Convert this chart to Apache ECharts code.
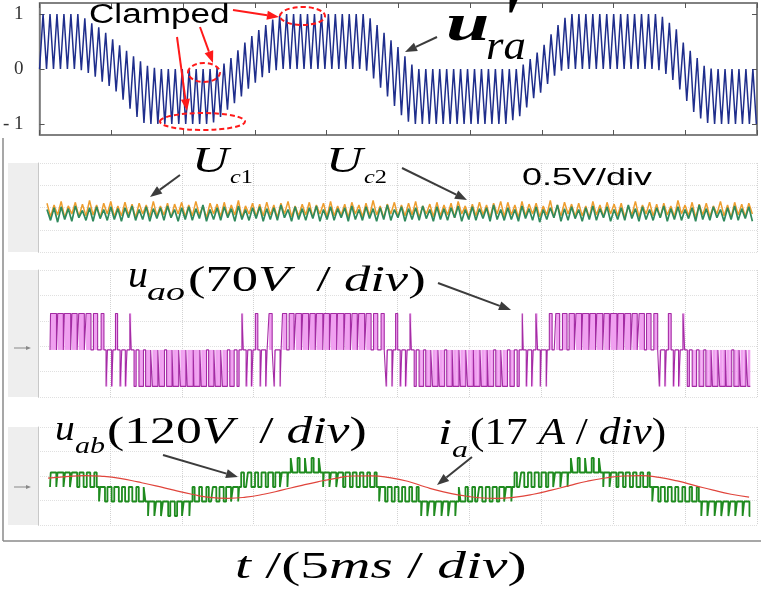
<!DOCTYPE html>
<html>
<head>
<meta charset="utf-8">
<script src="https://cdn.jsdelivr.net/npm/echarts@6/dist/echarts.min.js"></script>
<style>
  html, body { margin: 0; padding: 0; background: #fff; }
  #chart { width: 761px; height: 596px; }
</style>
</head>
<body>
<div id="chart"></div>
<script>
// time axis is in divisions (5 ms / div), 10 divisions across

// u'ra : peak / trough of each carrier period
const refPeriod = 0.097;
const refUpper = [
  1, 1, 1, 1, 1, 1, 0.92, 0.83, 0.76, 0.66, 0.54, 0.43, 0.33, 0.23, 0.14, 0.06, 0.02,
  0, 0, 0, 0, 0, 0, 0, 0,
  0.02, 0.1, 0.2, 0.34, 0.48, 0.6, 0.71, 0.8, 0.9, 0.97, 1,
  1, 1, 1, 1, 1, 1, 1, 1, 1, 1, 1,
  0.92, 0.8, 0.66, 0.52, 0.4, 0.23, 0.08, 0,
  0, 0, 0, 0, 0, 0, 0, 0, 0, 0, 0, 0, 0,
  0, 0.08, 0.18, 0.3, 0.44, 0.63, 0.8, 0.93, 1,
  1, 1, 1, 1, 1, 1, 1, 1, 1, 1, 1, 1,
  0.95, 0.84, 0.72, 0.48, 0.33, 0.2, 0.06, 0.01, 0,
  0, 0, 0, 0, 0
];
const refLower = [
  0, 0, 0, 0, 0, 0, -0.02, -0.07, -0.14, -0.23, -0.31, -0.41, -0.56, -0.72, -0.87, -0.98, -1,
  -1, -1, -1, -1, -1, -1, -1, -1,
  -0.97, -0.87, -0.74, -0.62, -0.5, -0.36, -0.25, -0.15, -0.07, -0.02, 0,
  0, 0, 0, 0, 0, 0, 0, 0, 0, 0, 0,
  -0.03, -0.17, -0.34, -0.5, -0.67, -0.84, -0.96, -1,
  -1, -1, -1, -1, -1, -1, -1, -1, -1, -1, -1, -1, -1,
  -0.93, -0.86, -0.7, -0.53, -0.43, -0.27, -0.12, -0.03, 0,
  0, 0, 0, 0, 0, 0, 0, 0, 0, 0, 0, 0,
  -0.02, -0.09, -0.2, -0.37, -0.58, -0.78, -0.9, -0.98, -1,
  -1, -1, -1, -1, -1
];

// capacitor voltages Uc1 (orange) / Uc2 (green), ripple in 1/16 div
const ucStart = 0.125;
const ucStep = 0.0493;
const uc1Values = [
  1.0, -0.5, 0.8, -0.3, 1.2, -0.6, 0.7, -0.2, 1.1, -0.5, 0.9, -0.4, 1.3, -0.3, 0.8, -0.6, 1.0, -0.2, 1.2, -0.5,
  0.7, -0.4, 1.1, -0.3, 0.9, -0.6, 1.0, -0.2, 0.8, -0.5, 1.2, -0.4, 0.7, -0.3, 1.0, -0.6, 0.9, -0.2, 1.1, -0.5,
  0.8, -0.4, 1.2, -0.3, 0.7, -0.6, 1.0, -0.2, 0.9, -0.5, 1.1, -0.4, 0.8, -0.3, 1.3, -0.6, 0.7, -0.2, 1.0, -0.5,
  0.9, -0.4, 1.1, -0.3, 0.8, -0.6, 1.0, -0.2, 1.2, -0.5, 0.7, -0.4, 0.9, -0.3, 1.1, -0.6, 0.8, -0.2, 1.0, -0.5,
  1.2, -0.4, 0.7, -0.3, 0.9, -0.6, 1.1, -0.2, 0.8, -0.5, 1.0, -0.4, 1.3, -0.3, 0.7, -0.6, 0.9, -0.2, 1.1, -0.5,
  0.8, -0.4, 1.0, -0.3, 1.2, -0.6, 0.7, -0.2, 0.9, -0.5, 1.1, -0.4, 0.8, -0.3, 1.0, -0.6, 1.2, -0.2, 0.7, -0.5,
  0.9, -0.4, 1.1, -0.3, 0.8, -0.6, 1.0, -0.2, 1.2, -0.5,
  1.1, -0.3, 0.8, -0.6, 1.2, -0.4, 0.9, -0.2, 1.0, -0.5, 0.7, -0.3, 1.3, -0.6, 0.8, -0.4, 1.1, -0.2, 0.9, -0.5,
  1.0, -0.4, 0.7, -0.6, 1.2, -0.3, 0.8, -0.5, 1.1, -0.2, 0.9, -0.4, 1.0, -0.6, 0.7, -0.3, 1.2, -0.5, 0.8, -0.2,
  1.1, -0.4, 0.9, -0.6, 1.0, -0.3, 0.7, -0.5, 1.3, -0.2, 0.8, -0.4, 1.1, -0.6, 0.9, -0.3, 1.0, -0.5, 0.7, -0.2,
  1.2, -0.4, 0.8, -0.6, 1.1, -0.3, 0.9, -0.5, 1.0, -0.2
];
const uc2Values = [
  0.3, -0.9, 0.5, -1.1, 0.6, -0.8, 0.4, -1.0, 0.7, -0.6, 0.2, -0.9, 0.5, -1.0, 0.6, -0.7, 0.3, -0.9, 0.6, -0.8,
  0.4, -1.0, 0.5, -0.6, 0.7, -0.9, 0.3, -0.8, 0.6, -1.0, 0.4, -0.7, 0.5, -0.9, 0.7, -0.6, 0.3, -1.0, 0.5, -0.8,
  0.6, -0.9, 0.4, -0.7, 0.8, -1.0, 0.3, -0.8, 0.5, -0.9, 0.6, -0.6, 0.4, -1.0, 0.7, -0.8, 0.3, -0.9, 0.5, -0.7,
  0.6, -1.0, 0.4, -0.8, 0.5, -0.9, 0.8, -0.6, 0.3, -1.0, 0.6, -0.8, 0.4, -0.9, 0.5, -0.7, 0.7, -1.0, 0.3, -0.8,
  0.6, -0.9, 0.4, -0.6, 0.5, -1.0, 0.7, -0.8, 0.3, -0.9, 0.6, -0.7, 0.4, -1.0, 0.5, -0.8, 0.8, -0.9, 0.3, -0.6,
  0.6, -1.0, 0.4, -0.8, 0.5, -0.9, 0.7, -0.7, 0.3, -1.0, 0.6, -0.8, 0.4, -0.9, 0.5, -0.6, 0.7, -1.0, 0.3, -0.8,
  0.6, -0.9, 0.4, -0.7, 0.5, -1.0, 0.8, -0.8, 0.3, -0.9,
  0.5, -0.8, 0.3, -1.0, 0.7, -0.7, 0.4, -0.9, 0.6, -1.1, 0.3, -0.8, 0.5, -0.6, 0.8, -1.0, 0.4, -0.9, 0.6, -0.7,
  0.3, -1.0, 0.5, -0.8, 0.7, -0.9, 0.4, -0.6, 0.6, -1.0, 0.3, -0.8, 0.5, -0.9, 0.8, -0.7, 0.4, -1.0, 0.6, -0.8,
  0.3, -0.9, 0.5, -0.6, 0.7, -1.0, 0.4, -0.8, 0.6, -0.9, 0.3, -0.7, 0.5, -1.0, 0.8, -0.8, 0.4, -0.9, 0.6, -0.6,
  0.3, -1.0, 0.5, -0.8, 0.7, -0.9, 0.4, -0.7, 0.6, -1.0
];

// PWM cells: lower level of the cell and fraction of the cell spent one level higher
const pwmStart = 0.167;
const cellWidth = 0.0974;
const aoLow = [
  0, 0, 0, 0, 0, 0, 0,
  0, -1, 0, -1, 0, -1,
  -1, -1, -1, -1, -1, -1, -1, -1, -1, -1, -1, -1, -1, -1,
  0, -1, 0, -1, 0, -1,
  0, 0, 0, 0, 0, 0, 0, 0, 0, 0, 0, 0, 0, 0,
  0, -1, 0, -1, 0,
  -1, -1, -1, -1, -1, -1, -1, -1, -1, -1, -1, -1, -1, -1, -1,
  0, -1, 0, -1, 0,
  0, 0, 0, 0, 0, 0, 0, 0, 0, 0, 0, 0, 0, 0, 0,
  -1, 0, -1, 0, -1,
  -1, -1, -1, -1, -1, -1, -1, -1
];
const aoDuty = [
  0.85, 0.8, 0.9, 0.75, 0.8, 0.7, 0.6,
  0.4, 0.6, 0.3, 0.5, 0.2, 0.4,
  0.3, 0.25, 0.2, 0.3, 0.15, 0.25, 0.2, 0.1, 0.2, 0.3, 0.2, 0.25, 0.35, 0.4,
  0.2, 0.5, 0.35, 0.6, 0.45, 0.7,
  0.6, 0.7, 0.8, 0.85, 0.75, 0.9, 0.8, 0.85, 0.9, 0.8, 0.75, 0.85, 0.7, 0.6,
  0.45, 0.65, 0.3, 0.5, 0.2,
  0.4, 0.3, 0.25, 0.2, 0.3, 0.15, 0.2, 0.25, 0.1, 0.2, 0.15, 0.3, 0.25, 0.35, 0.4,
  0.15, 0.55, 0.25, 0.7, 0.4,
  0.55, 0.65, 0.75, 0.8, 0.9, 0.8, 0.85, 0.75, 0.9, 0.8, 0.85, 0.7, 0.75, 0.65, 0.55,
  0.6, 0.4, 0.5, 0.25, 0.4,
  0.35, 0.3, 0.2, 0.25, 0.15, 0.3, 0.2, 0.25
];
const abLow = [
  0, 0, 0, 0, 0, 0, 0,
  -1, -1, -1, -1, -1, -1, -1,
  -2, -2, -2, -2, -2, -2,
  -1, -1, -1, -1, -1, -1, -1,
  0, 0, 0, 0, 0, 0, 0,
  1, 1, 1, 1, 1,
  0, 0, 0, 0, 0, 0, 0, 0,
  -1, -1, -1, -1, -1, -1,
  -2, -2, -2, -2, -2,
  -1, -1, -1, -1, -1, -1, -1, -1,
  0, 0, 0, 0, 0, 0, 0, 0,
  1, 1, 1, 1, 1,
  0, 0, 0, 0, 0, 0, 0,
  -1, -1, -1, -1, -1, -1, -1,
  -2, -2, -2, -2, -2, -2, -2
];
const abDuty = [
  0.8, 0.85, 0.7, 0.75, 0.6, 0.5, 0.35,
  0.7, 0.6, 0.65, 0.45, 0.5, 0.35, 0.25,
  0.8, 0.7, 0.75, 0.65, 0.7, 0.8,
  0.3, 0.4, 0.35, 0.5, 0.6, 0.7, 0.75,
  0.4, 0.5, 0.45, 0.6, 0.7, 0.65, 0.8,
  0.25, 0.3, 0.2, 0.3, 0.25,
  0.8, 0.75, 0.7, 0.65, 0.55, 0.5, 0.4, 0.3,
  0.7, 0.6, 0.55, 0.45, 0.4, 0.3,
  0.75, 0.7, 0.8, 0.7, 0.75,
  0.25, 0.35, 0.4, 0.45, 0.55, 0.6, 0.7, 0.75,
  0.35, 0.45, 0.5, 0.6, 0.65, 0.7, 0.75, 0.8,
  0.25, 0.3, 0.2, 0.3, 0.25,
  0.8, 0.75, 0.65, 0.6, 0.5, 0.4, 0.3,
  0.7, 0.6, 0.55, 0.45, 0.4, 0.35, 0.3,
  0.75, 0.8, 0.7, 0.75, 0.7, 0.8, 0.75
];

// phase current ia, sampled every quarter division
const iaStart = 0.14;
const iaStep = 0.25;
const iaValues = [
  0.62, 0.72, 0.79, 0.74, 0.6, 0.35, 0.08, -0.22, -0.5, -0.72,
  -0.78, -0.7, -0.5, -0.22, 0.08, 0.36, 0.6, 0.76, 0.77, 0.65,
  0.4, 0.0, -0.34, -0.58, -0.74, -0.79, -0.7, -0.5, -0.22, 0.1,
  0.4, 0.62, 0.76, 0.78, 0.66, 0.42, 0.1, -0.22, -0.5, -0.7
];

const serif = 'Liberation Serif';
const sans = 'Liberation Sans';

function refPoints() {
  const pts = [];
  refUpper.forEach((u, k) => {
    pts.push([k * refPeriod, refLower[k]]);
    pts.push([(k + 0.5) * refPeriod, u]);
  });
  pts.push([refUpper.length * refPeriod, refLower[refLower.length - 1]]);
  return pts;
}

function sampled(values, start, step) {
  return values.map((v, i) => [start + i * step, v]);
}

function pwmPoints(low, duty) {
  const pts = [];
  low.forEach((lo, k) => {
    const t0 = pwmStart + k * cellWidth;
    const a = t0 + (1 - duty[k]) / 2 * cellWidth;
    const b = t0 + (1 + duty[k]) / 2 * cellWidth;
    pts.push([t0, lo], [a, lo], [a, lo + 1], [b, lo + 1], [b, lo], [t0 + cellWidth, lo]);
  });
  return pts;
}

// shaded area between the phase voltage and its zero level, one cell at a time
function aoFill(params, api) {
  const t0 = api.value(0), lo = api.value(1), d = api.value(2);
  const a = t0 + (1 - d) / 2 * cellWidth;
  const b = t0 + (1 + d) / 2 * cellWidth;
  const spans = lo >= 0 ? [[a, b, 0, 1]] : [[t0, a, -1, 0], [b, t0 + cellWidth, -1, 0]];
  return {
    type: 'group',
    children: spans.map((s) => {
      const p1 = api.coord([s[0], s[3]]);
      const p2 = api.coord([s[1], s[2]]);
      return { type: 'rect', shape: { x: p1[0], y: p1[1], width: p2[0] - p1[0], height: p2[1] - p1[1] },
        style: { fill: '#f0a0f0' } };
    })
  };
}

function arrow(x1, y1, x2, y2, color, w, head) {
  const ang = Math.atan2(y2 - y1, x2 - x1);
  const hx = x2 - head * Math.cos(ang), hy = y2 - head * Math.sin(ang);
  const px = -Math.sin(ang) * head * 0.38, py = Math.cos(ang) * head * 0.38;
  return [
    { type: 'line', z: 100, shape: { x1: x1, y1: y1, x2: hx, y2: hy }, style: { stroke: color, lineWidth: w } },
    { type: 'polygon', z: 100, shape: { points: [[x2, y2], [hx + px, hy + py], [hx - px, hy - py]] }, style: { fill: color } }
  ];
}

function txt(text, x, y, font, sx) {
  return { type: 'text', z: 100, x: x, y: y, scaleX: sx,
    style: { text: text, font: font, fill: '#000', align: 'left', verticalAlign: 'middle' } };
}

function rich(text, x, y, size, sx) {
  return { type: 'text', z: 100, x: x, y: y, scaleX: sx,
    style: { text: text, fill: '#000', align: 'left', verticalAlign: 'middle',
      rich: {
        n: { fontFamily: serif, fontSize: size, fontStyle: 'normal', fill: '#000' },
        i: { fontFamily: serif, fontSize: size, fontStyle: 'italic', fill: '#000' }
      } } };
}

function ellipse(cx, cy, rx, ry) {
  return { type: 'ellipse', z: 100, shape: { cx: cx, cy: cy, rx: rx, ry: ry },
    style: { fill: null, stroke: '#ff1a1a', lineWidth: 2, lineDash: [5, 3] } };
}

function band(y, h) {
  return { type: 'rect', z: -10, shape: { x: 8, y: y, width: 30, height: h }, style: { fill: '#eeeeee' } };
}

const scopeX = (gi) => ({
  gridIndex: gi, type: 'value', min: 0, max: 10, interval: 1,
  axisLine: { show: false }, axisTick: { show: false }, axisLabel: { show: false },
  splitLine: { show: true, lineStyle: { color: '#d2d2d2', type: 'dotted', width: 1 } }
});
const scopeY = (gi, min, max) => ({
  gridIndex: gi, type: 'value', min: min, max: max, position: 'left',
  axisLine: { show: true, onZero: false, lineStyle: { color: '#c8c8c8', width: 1 } },
  axisTick: { show: false }, axisLabel: { show: false }, splitLine: { show: false }
});
const scopeLines = (gi, n) => ({
  gridIndex: gi, type: 'value', min: 0, max: n, interval: 1, position: 'right',
  axisLine: { show: false }, axisTick: { show: false }, axisLabel: { show: false },
  splitLine: { show: true, lineStyle: { color: '#e0e0e0', type: 'dotted', width: 1 } }
});
const frameX = (pos) => ({
  gridIndex: 0, type: 'value', min: 0, max: 10, interval: 1, position: pos,
  axisLine: { show: true, onZero: false, lineStyle: { color: '#7a7a7a', width: 1.5 } },
  axisTick: { show: true, inside: true, length: 5, lineStyle: { color: '#555', width: 1 } },
  axisLabel: { show: false }, splitLine: { show: false }
});
const frameY = (pos, labels) => ({
  gridIndex: 0, type: 'value', min: -1.2, max: 1.2, position: pos,
  axisLine: { show: true, onZero: false, lineStyle: { color: '#7a7a7a', width: 1.5 } },
  axisTick: { show: true, inside: true, length: 5, customValues: [-1, 0, 1], lineStyle: { color: '#555', width: 1 } },
  axisLabel: { show: labels, customValues: [-1, 0, 1], margin: 16, fontFamily: serif, fontSize: 19, color: '#333',
    formatter: (v) => (v === -1 ? '- 1' : String(v)) },
  splitLine: { show: false }
});

const graphics = [].concat(
  [band(163, 89), band(270, 127), band(427, 98)],
  [
    { type: 'line', z: 100, shape: { x1: 3, y1: 138, x2: 3, y2: 541 }, style: { stroke: '#8a8a8a', lineWidth: 1.5 } },
    { type: 'line', z: 100, shape: { x1: 3, y1: 541, x2: 761, y2: 541 }, style: { stroke: '#8a8a8a', lineWidth: 1.5 } }
  ],
  arrow(14, 348, 31, 348, '#888', 1, 5),
  arrow(14, 487, 31, 487, '#888', 1, 5),
  // Clamped annotation
  [txt('Clamped', 89, 16, '27px ' + sans, 1.3)],
  arrow(233, 10, 279, 17, '#ff1a1a', 2, 12),
  arrow(200, 27, 213, 63, '#ff1a1a', 2, 12),
  arrow(177, 37, 187, 111, '#ff1a1a', 2, 12),
  [ellipse(302.5, 16, 22.5, 9), ellipse(204, 72.5, 16, 9.5), ellipse(202.5, 121.5, 42.5, 8.5)],
  // u'ra
  [txt('u', 446, 27, 'italic bold 52px ' + serif, 1.5),
   txt("'", 500, 22, 'italic bold 52px ' + serif, 1.3),
   txt('ra', 486, 48, 'italic 40px ' + serif, 1.12)],
  arrow(437, 37, 405, 52, '#3c3c3c', 2, 12),
  // Uc1, Uc2, scale
  [txt('U', 192, 163, 'italic 35px ' + serif, 1.45),
   rich('{i|c}{n|1}', 230, 178, 19, 1.28),
   txt('U', 326, 163, 'italic 35px ' + serif, 1.45),
   rich('{i|c}{n|2}', 364, 178, 19, 1.28),
   txt('0.5V/div', 522, 178, '24px ' + sans, 1.5)],
  arrow(180, 175, 150, 197, '#3c3c3c', 2, 12),
  arrow(402, 168, 467, 200, '#3c3c3c', 2, 12),
  // uao
  [txt('u', 128, 277, 'italic 38px ' + serif, 1.05),
   txt('ao', 147, 293, 'italic 26px ' + serif, 1.46),
   rich('{n|(70}{i|V}{n|  / }{i|div}{n|)}', 188, 282, 35, 1.5)],
  arrow(438, 283, 511, 310, '#3c3c3c', 2, 12),
  // uab, ia
  [txt('u', 55, 431, 'italic 36px ' + serif, 1.1),
   txt('ab', 75, 447, 'italic 24px ' + serif, 1.25),
   rich('{n|(120}{i|V}{n|  / }{i|div}{n|)}', 107, 433, 38, 1.36),
   txt('i', 438, 435, 'italic 36px ' + serif, 1.4),
   txt('a', 452, 451, 'italic 24px ' + serif, 1.33),
   rich('{n|(17 }{i|A}{n| / }{i|div}{n|)}', 470, 434, 38, 1.14)],
  arrow(163, 455, 238, 477, '#3c3c3c', 2, 12),
  arrow(472, 457, 437, 485, '#3c3c3c', 2, 12),
  // time axis caption
  [rich('{i|t}{n| /(5}{i|ms}{n| / }{i|div}{n|)}', 235, 568, 37, 1.55)]
);

const chart = echarts.init(document.getElementById('chart'), null, { renderer: 'canvas' });
chart.setOption({
  animation: false,
  backgroundColor: '#ffffff',
  grid: [
    { left: 38, top: 3, width: 719, height: 132, show: true, borderColor: '#7a7a7a', borderWidth: 1.5, backgroundColor: '#fff' },
    { left: 38, top: 163, width: 719, height: 89 },
    { left: 38, top: 270, width: 719, height: 127 },
    { left: 38, top: 427, width: 719, height: 98 }
  ],
  xAxis: [frameX('bottom'), frameX('top'), scopeX(1), scopeX(2), scopeX(3)],
  yAxis: [
    frameY('left', true), frameY('right', false),
    scopeY(1, -4.4, 5.45), scopeLines(1, 4),
    scopeY(2, -1.29, 2.19), scopeLines(2, 5),
    scopeY(3, -2.62, 4.14), scopeLines(3, 4)
  ],
  series: [
    { name: "u'ra", type: 'line', xAxisIndex: 0, yAxisIndex: 0, data: refPoints(), showSymbol: false,
      lineStyle: { color: '#1f2e8c', width: 1.5 } },
    { name: 'Uc1', type: 'line', xAxisIndex: 2, yAxisIndex: 2, data: sampled(uc1Values, ucStart, ucStep), showSymbol: false,
      lineStyle: { color: '#ee9d2e', width: 1.5 } },
    { name: 'Uc2', type: 'line', xAxisIndex: 2, yAxisIndex: 2, data: sampled(uc2Values, ucStart, ucStep), showSymbol: false,
      lineStyle: { color: '#2f8a5c', width: 1.7 } },
    { name: 'uao fill', type: 'custom', xAxisIndex: 3, yAxisIndex: 4, z: 1,
      data: aoLow.map((lo, k) => [pwmStart + k * cellWidth, lo, aoDuty[k]]),
      encode: { x: 0, y: 1 }, renderItem: aoFill },
    { name: 'uao', type: 'line', xAxisIndex: 3, yAxisIndex: 4, z: 3, data: pwmPoints(aoLow, aoDuty), showSymbol: false,
      lineStyle: { color: '#a42ba4', width: 1.1 } },
    { name: 'uab', type: 'line', xAxisIndex: 4, yAxisIndex: 6, data: pwmPoints(abLow, abDuty), showSymbol: false,
      lineStyle: { color: '#1f8b1f', width: 1.8 } },
    { name: 'ia', type: 'line', xAxisIndex: 4, yAxisIndex: 6, data: sampled(iaValues, iaStart, iaStep), showSymbol: false,
      smooth: true, lineStyle: { color: '#e0453c', width: 1.2 } }
  ],
  graphic: graphics
});
</script>
</body>
</html>
